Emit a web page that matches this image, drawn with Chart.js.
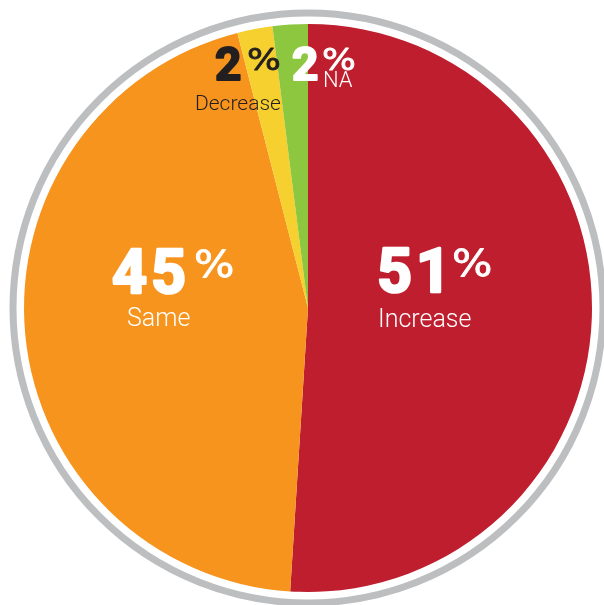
<!DOCTYPE html>
<html>
<head>
<meta charset="utf-8">
<script src="https://cdn.jsdelivr.net/npm/chart.js@4/dist/chart.umd.min.js"></script>
<style>
  html, body { margin: 0; padding: 0; background: #fff; }
  canvas { display: block; }
</style>
</head>
<body>
<canvas id="pie" width="604" height="605"></canvas>
<script>
/* =========================================================
   DATA
   ========================================================= */
const CATEGORIES = ["Increase", "Same", "Decrease", "NA"];
const VALUES = [51, 45, 2, 2];
const COLORS = ["#BE1E2D", "#F7941D", "#F6D02F", "#8DC63F"];

// label placement (text only): left x of number, baseline, sizes
const LABEL_STYLE = [
    { nx: 377, ny: 292, ns: 61, px: 452, ps: 37, lx: 378, ly: 327, ls: 25, color: "#fff" },
    { nx: 112, ny: 293, ns: 61, px: 194, ps: 37, lx: 127, ly: 326, ls: 25, color: "#fff" },
    { nx: 215, ny: 80, ns: 46, px: 247, ps: 31, lx: 195, ly: 110, ls: 21, color: "#231F20" },
    { nx: 292, ny: 80, ns: 46, px: 322, ps: 31, lx: 323, ly: 87, ls: 22, color: "#fff" },
];

/* =========================================================
   PLUGINS
   ========================================================= */
const ringPlugin = {
    id: "ring",
    beforeDatasetsDraw(chart) {
        const arc = chart.getDatasetMeta(0).data[0];
        if (!arc) return;
        const ctx = chart.ctx;
        ctx.save();
        ctx.beginPath();
        ctx.arc(arc.x, arc.y, arc.outerRadius + 11, 0, Math.PI * 2);
        ctx.strokeStyle = "#BCBEC0";
        ctx.lineWidth = 7;
        ctx.stroke();
        ctx.restore();
    }
};

const labelPlugin = {
    id: "sliceLabels",
    afterDatasetsDraw(chart) {
        const ctx = chart.ctx;
        ctx.save();
        ctx.textAlign = "left";
        ctx.textBaseline = "alphabetic";
        VALUES.forEach((v, i) => {
            const s = LABEL_STYLE[i];
            const top = s.ny - s.ns * 0.71;
            ctx.fillStyle = s.color;
            ctx.strokeStyle = s.color;
            ctx.lineJoin = "round";

            // big number
            ctx.lineWidth = s.ns > 50 ? 2.6 : 2;
            ctx.letterSpacing = s.ns > 50 ? "4px" : "0px";
            ctx.font = `bold ${s.ns}px Roboto, "Liberation Sans", sans-serif`;
            ctx.fillText(String(v), s.nx, s.ny);
            ctx.strokeText(String(v), s.nx, s.ny);
            ctx.letterSpacing = "0px";

            // superscript percent, a little wider than the font gives
            ctx.save();
            ctx.translate(s.px, top + s.ps * 0.73);
            ctx.scale(1.15, 1);
            ctx.font = `${s.ps}px "DejaVu Sans", sans-serif`;
            ctx.lineWidth = 0.8;
            ctx.fillText("%", 0, 0);
            ctx.strokeText("%", 0, 0);
            ctx.restore();

            // category name
            ctx.font = `300 ${s.ls}px Roboto, "Liberation Sans", sans-serif`;
            ctx.fillText(CATEGORIES[i], s.lx, s.ly);
        });
        ctx.restore();
    }
};

/* =========================================================
   CHART
   ========================================================= */
new Chart(document.getElementById("pie").getContext("2d"), {
    type: "pie",
    data: {
        labels: CATEGORIES,
        datasets: [{
            data: VALUES,
            backgroundColor: COLORS,
            borderWidth: 0
        }]
    },
    options: {
        responsive: false,
        animation: false,
        layout: { padding: { left: 24, right: 12, top: 24, bottom: 13 } },
        plugins: {
            legend: { display: false },
            tooltip: { enabled: false }
        }
    },
    plugins: [ringPlugin, labelPlugin]
});
</script>
</body>
</html>
